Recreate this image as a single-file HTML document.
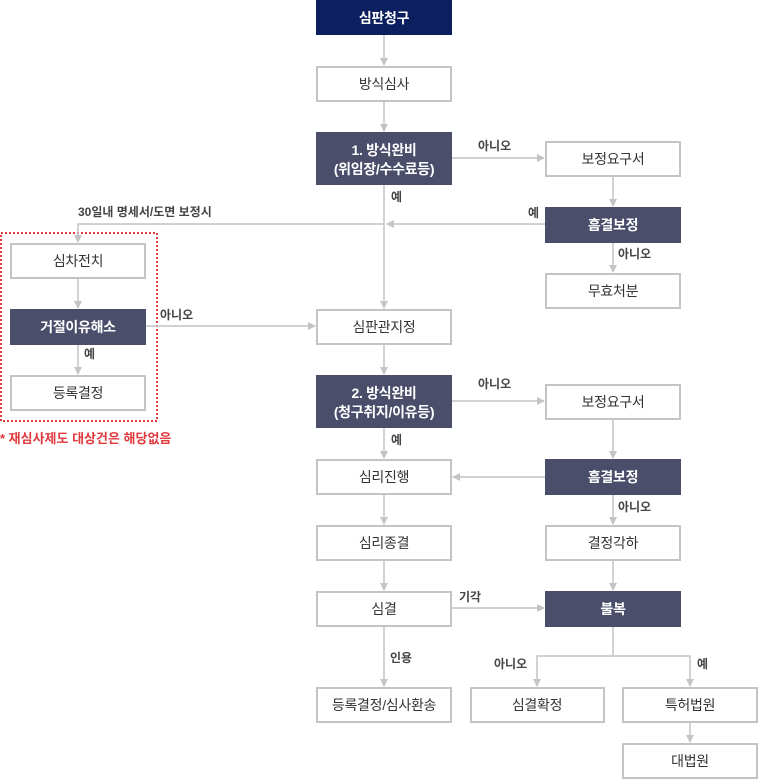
<!DOCTYPE html>
<html><head><meta charset="utf-8"><style>
html,body{margin:0;padding:0;background:#fff;width:758px;height:779px;overflow:hidden}
svg{display:block}
text{font-family:"Liberation Sans","Noto Sans CJK KR","NanumGothic",sans-serif}
.b{fill:#fff;stroke:#c4c4c4;stroke-width:2}
.d{fill:#4a4e6b}
.t{font-size:14px;fill:#333;text-anchor:middle;letter-spacing:-0.3px}
.w{font-size:14px;fill:#fff;text-anchor:middle;font-weight:bold;letter-spacing:-0.3px}
.l{font-size:12px;fill:#444;font-weight:bold}
.ln{stroke:#c4c4c4;stroke-width:1.5;fill:none}
</style></head><body>
<svg width="758" height="779" viewBox="0 0 758 779" xmlns="http://www.w3.org/2000/svg">
<defs>
<marker id="m" markerWidth="8" markerHeight="8" refX="7" refY="4" orient="auto" markerUnits="userSpaceOnUse">
<path d="M0,0 L8,4 L0,8 z" fill="#c4c4c4"/></marker>
</defs>
<rect x="1" y="233" width="156" height="188" fill="none" stroke="#e0393e" stroke-width="2" stroke-dasharray="2,2"/>
<text x="0" y="443" style="font-size:13px;fill:#e0393e;font-weight:bold">* 재심사제도 대상건은 해당없음</text>

<g class="ln" marker-end="url(#m)">
<line x1="384" y1="35" x2="384" y2="65"/>
<line x1="384" y1="101" x2="384" y2="131"/>
<line x1="384" y1="185" x2="384" y2="308"/>
<line x1="452" y1="158" x2="544" y2="158"/>
<line x1="613" y1="176" x2="613" y2="206"/>
<line x1="545" y1="224" x2="387" y2="224"/>
<line x1="613" y1="242" x2="613" y2="272"/>
<polyline points="384,224 78,224 78,242"/>
<line x1="78" y1="278" x2="78" y2="308"/>
<line x1="78" y1="344" x2="78" y2="374"/>
<line x1="146" y1="326" x2="315" y2="326"/>
<line x1="384" y1="344" x2="384" y2="374"/>
<line x1="452" y1="401" x2="544" y2="401"/>
<line x1="384" y1="428" x2="384" y2="458"/>
<line x1="613" y1="419" x2="613" y2="458"/>
<line x1="545" y1="477" x2="453" y2="477"/>
<line x1="613" y1="495" x2="613" y2="524"/>
<line x1="384" y1="494" x2="384" y2="524"/>
<line x1="384" y1="560" x2="384" y2="590"/>
<line x1="613" y1="560" x2="613" y2="590"/>
<line x1="452" y1="608" x2="544" y2="608"/>
<line x1="384" y1="626" x2="384" y2="686"/>
<polyline points="613,626 613,656 537,656 537,686"/>
<polyline points="613,656 690,656 690,686"/>
<line x1="690" y1="722" x2="690" y2="742"/>
</g>

<text class="l" x="478" y="150">아니오</text>
<text class="l" x="391" y="201">예</text>
<text class="l" x="528" y="217">예</text>
<text class="l" x="78" y="216">30일내 명세서/도면 보정시</text>
<text class="l" x="618" y="258">아니오</text>
<text class="l" x="160" y="319">아니오</text>
<text class="l" x="84" y="358">예</text>
<text class="l" x="478" y="388">아니오</text>
<text class="l" x="391" y="444">예</text>
<text class="l" x="618" y="511">아니오</text>
<text class="l" x="459" y="601">기각</text>
<text class="l" x="390" y="662">인용</text>
<text class="l" x="494" y="668">아니오</text>
<text class="l" x="697" y="668">예</text>

<rect x="316" y="0" width="136" height="35" fill="#0c1f5e"/>
<text class="w" x="384" y="23">심판청구</text>

<rect class="b" x="317" y="67" width="134" height="34"/>
<text class="t" x="384" y="89">방식심사</text>

<rect class="d" x="316" y="132" width="136" height="53"/>
<text class="w" x="384" y="155">1. 방식완비</text>
<text class="w" x="384" y="174">(위임장/수수료등)</text>

<rect class="b" x="546" y="142" width="134" height="34"/>
<text class="t" x="613" y="164">보정요구서</text>

<rect class="d" x="545" y="207" width="136" height="36"/>
<text class="w" x="613" y="230">흠결보정</text>

<rect class="b" x="546" y="274" width="134" height="34"/>
<text class="t" x="613" y="296">무효처분</text>

<rect class="b" x="11" y="244" width="134" height="34"/>
<text class="t" x="78" y="266">심차전치</text>

<rect class="d" x="10" y="309" width="136" height="36"/>
<text class="w" x="78" y="332">거절이유해소</text>

<rect class="b" x="11" y="376" width="134" height="34"/>
<text class="t" x="78" y="398">등록결정</text>

<rect class="b" x="317" y="310" width="134" height="34"/>
<text class="t" x="384" y="332">심판관지정</text>

<rect class="d" x="316" y="375" width="136" height="53"/>
<text class="w" x="384" y="398">2. 방식완비</text>
<text class="w" x="384" y="417">(청구취지/이유등)</text>

<rect class="b" x="546" y="385" width="134" height="34"/>
<text class="t" x="613" y="407">보정요구서</text>

<rect class="d" x="545" y="459" width="136" height="36"/>
<text class="w" x="613" y="482">흠결보정</text>

<rect class="b" x="317" y="460" width="134" height="34"/>
<text class="t" x="384" y="482">심리진행</text>

<rect class="b" x="317" y="526" width="134" height="34"/>
<text class="t" x="384" y="548">심리종결</text>

<rect class="b" x="546" y="526" width="134" height="34"/>
<text class="t" x="613" y="548">결정각하</text>

<rect class="b" x="317" y="592" width="134" height="34"/>
<text class="t" x="384" y="614">심결</text>

<rect class="d" x="545" y="591" width="136" height="36"/>
<text class="w" x="613" y="614">불복</text>

<rect class="b" x="317" y="688" width="134" height="34"/>
<text class="t" x="384" y="710">등록결정/심사환송</text>

<rect class="b" x="471" y="688" width="133" height="34"/>
<text class="t" x="537" y="710">심결확정</text>

<rect class="b" x="623" y="688" width="134" height="34"/>
<text class="t" x="690" y="710">특허법원</text>

<rect class="b" x="623" y="744" width="134" height="34"/>
<text class="t" x="690" y="766">대법원</text>
</svg>
</body></html>
